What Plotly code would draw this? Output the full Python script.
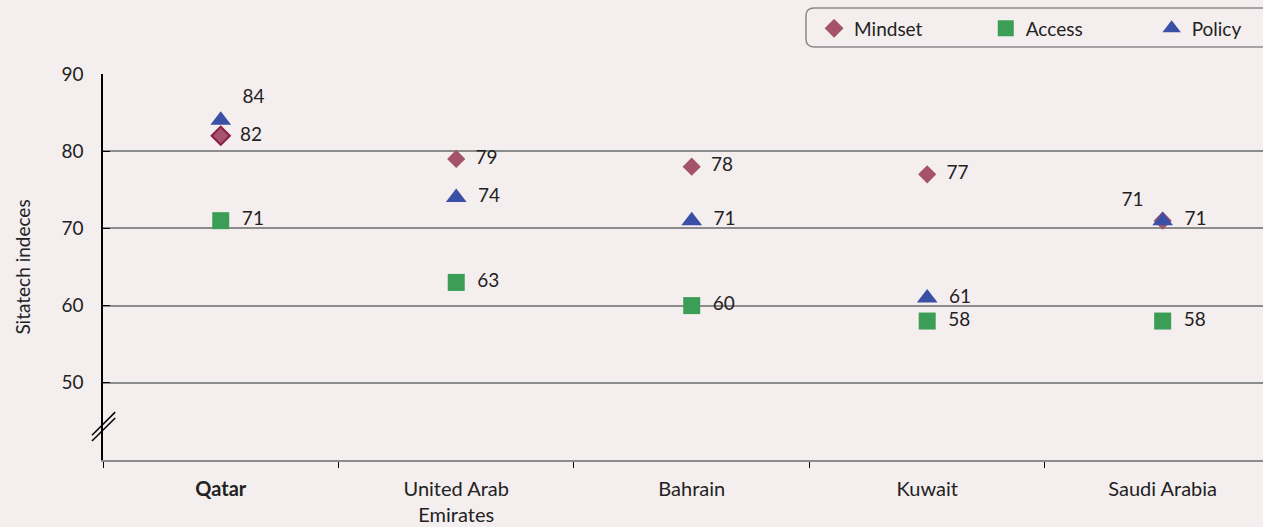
import plotly.graph_objects as go

# Daten
countries = ["<b>Qatar</b>", "United Arab<br>Emirates", "Bahrain", "Kuwait", "Saudi Arabia"]
mindset = [82, 79, 78, 77, 71]
access = [71, 63, 60, 58, 58]
policy = [84, 74, 71, 61, 71]
y_ticks = [40, 50, 60, 70, 80, 90]
y_tick_text = ["", "50", "60", "70", "80", "90"]

# Farben
bg = "#F5EEEF"
c_mindset = "#A5526B"
c_mindset_edge = "#8A1D45"
c_access = "#3C9D56"
c_policy = "#3A50A6"
txt = "#222222"
grid = "#8C8C8C"

font_family = "Lato, Open Sans, sans-serif"
fs = 19
sp = "\u2002"

fig = go.Figure()

fig.add_trace(go.Scatter(
    x=countries, y=mindset, name="Mindset", mode="markers+text",
    text=[sp + str(v) for v in mindset[:4]] + [str(mindset[4]) + sp],
    textposition=["middle right", "middle right", "middle right", "middle right", "top left"],
    textfont=dict(size=fs, color=txt, family=font_family),
    marker=dict(symbol="diamond", size=14, color=c_mindset,
                line=dict(color=[c_mindset_edge, c_mindset, c_mindset, c_mindset, c_mindset],
                          width=[2, 0, 0, 0, 0])),
    cliponaxis=False, legend="legend",
))

fig.add_trace(go.Scatter(
    x=countries, y=access, name="Access", mode="markers+text",
    text=[sp + str(v) for v in access],
    textposition="middle right",
    textfont=dict(size=fs, color=txt, family=font_family),
    marker=dict(symbol="square", size=17, color=c_access, line=dict(width=0)),
    cliponaxis=False, legend="legend2",
))

fig.add_trace(go.Scatter(
    x=countries, y=policy, name="Policy", mode="markers+text",
    text=[sp + str(v) for v in policy],
    textposition=["top right", "middle right", "middle right", "middle right", "middle right"],
    textfont=dict(size=fs, color=txt, family=font_family),
    marker=dict(symbol="triangle-up", size=18, color=c_policy, line=dict(width=0)),
    cliponaxis=False, legend="legend3",
))

# Legendenrahmen (abgerundet)
x0, x1 = 0.606, 1.02
y0, y1 = 1.070, 1.171
rx, ry = 0.007, 0.021
path = (f"M {x0+rx},{y0} L {x1-rx},{y0} Q {x1},{y0} {x1},{y0+ry} "
        f"L {x1},{y1-ry} Q {x1},{y1} {x1-rx},{y1} L {x0+rx},{y1} "
        f"Q {x0},{y1} {x0},{y1-ry} L {x0},{y0+ry} Q {x0},{y0} {x0+rx},{y0} Z")
fig.add_shape(type="path", path=path, xref="paper", yref="paper",
              line=dict(color="#8A8A8A", width=1.5), fillcolor="rgba(0,0,0,0)", layer="below")

# Achsenbruch
for dy in (0.0, -0.75):
    fig.add_shape(type="line", xref="paper", yref="y",
                  x0=-0.0095, x1=0.0105, y0=43.2 + dy, y1=46.2 + dy,
                  line=dict(color="black", width=1.5))

leg = dict(orientation="h", y=1.118, xanchor="left", yanchor="middle",
           bgcolor="rgba(0,0,0,0)", borderwidth=0,
           font=dict(size=fs, color=txt, family=font_family), itemclick=False)

fig.update_layout(
    width=1263, height=527,
    margin=dict(l=103, r=0, t=74, b=67, autoexpand=False),
    paper_bgcolor=bg, plot_bgcolor=bg,
    font=dict(family=font_family, size=fs, color=txt),
    showlegend=True,
    legend=dict(leg, x=0.613),
    legend2=dict(leg, x=0.761),
    legend3=dict(leg, x=0.904),
)

fig.update_xaxes(
    type="category", range=[-0.5, 4.426],
    showgrid=False, showline=True, linecolor=grid, linewidth=1.5,
    ticks="outside", tickson="boundaries", ticklen=6, tickcolor="black", tickwidth=1,
    tickfont=dict(size=20, color=txt), ticklabelstandoff=10, zeroline=False,
)

fig.update_yaxes(
    range=[40, 90], tickvals=y_ticks, ticktext=y_tick_text,
    showgrid=True, gridcolor=grid, gridwidth=1.5,
    showline=True, linecolor="black", linewidth=1.5,
    ticks="inside", ticklen=7, tickcolor="black", ticklabelstandoff=14,
    tickfont=dict(size=fs, color=txt), zeroline=False,
    title=dict(text="Sitatech indeces", font=dict(size=fs, color=txt), standoff=26),
)

fig.write_html(
    "out.html",
    config={"displayModeBar": False},
    post_script="document.body.style.margin='0';document.body.style.background='#F5EEEF';",
)
